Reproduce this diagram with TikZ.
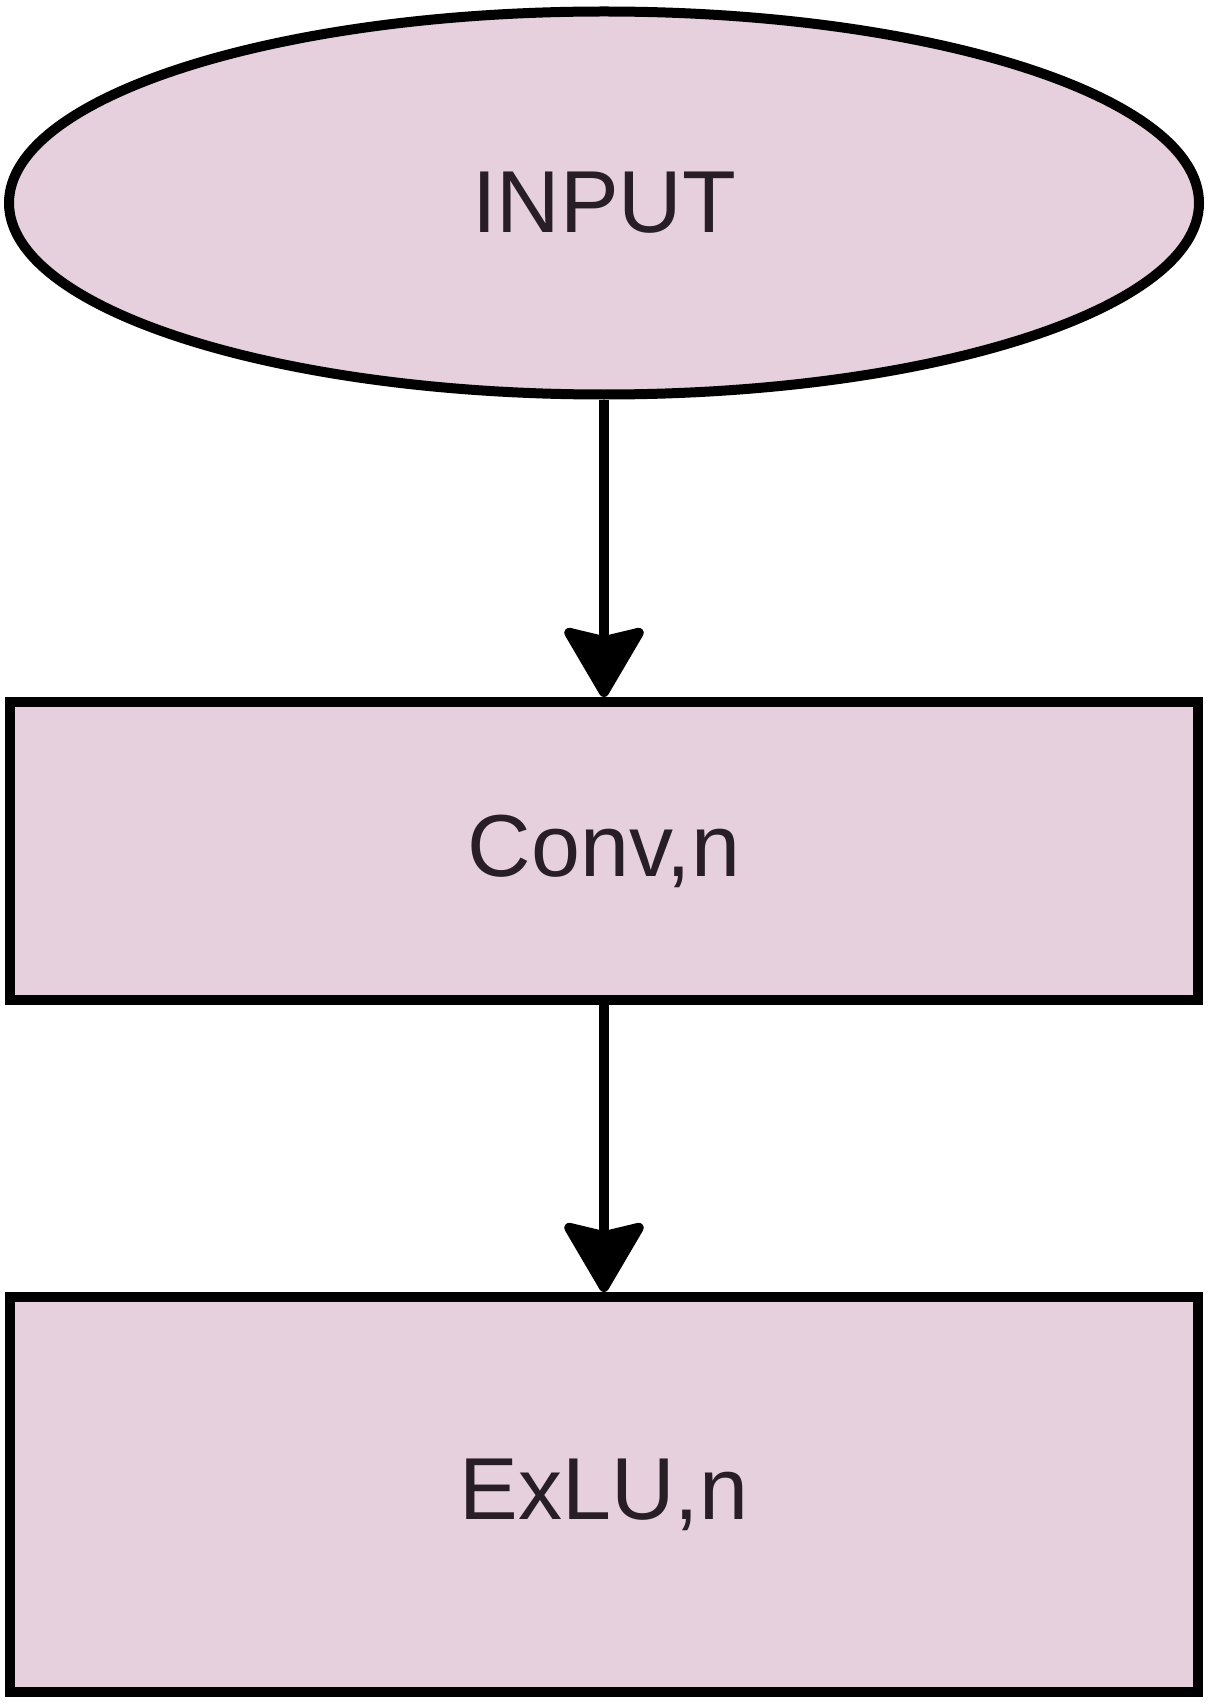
\documentclass[tikz,border=0pt]{standalone}
\usepackage{fontspec}
\setmainfont{Liberation Sans}
\usetikzlibrary{shapes.geometric,arrows.meta}
\definecolor{boxfill}{RGB}{230,208,222}
\definecolor{boxtext}{RGB}{40,30,38}

\begin{document}
\begin{tikzpicture}[x=0.5pt,y=0.5pt,yscale=-1,xscale=1,
  blockbox/.style={draw=black,line width=5pt,fill=boxfill,text=boxtext,
    font=\fontsize{44}{52}\selectfont,inner sep=0pt},
  flowarrow/.style={line width=5pt,-{Stealth[length=38pt,width=44pt,inset=5pt,round]}}]
\useasboundingbox (0,0) rectangle (1210,1706);

%Shape: Ellipse [id:input]
\node [blockbox,ellipse,minimum width=595pt,minimum height=191.5pt] (input) at (604,203) {INPUT};
%Shape: Rectangle [id:conv]
\node [blockbox,rectangle,minimum width=594pt,minimum height=149pt] (conv) at (604,851) {Conv,n};
%Shape: Rectangle [id:exlu]
\node [blockbox,rectangle,minimum width=594pt,minimum height=197.5pt] (exlu) at (604,1494.5) {ExLU,n};

%Straight Lines [id:input-conv]
\draw [flowarrow] (input) -- (conv);
%Straight Lines [id:conv-exlu]
\draw [flowarrow] (conv) -- (exlu);

\end{tikzpicture}
\end{document}
